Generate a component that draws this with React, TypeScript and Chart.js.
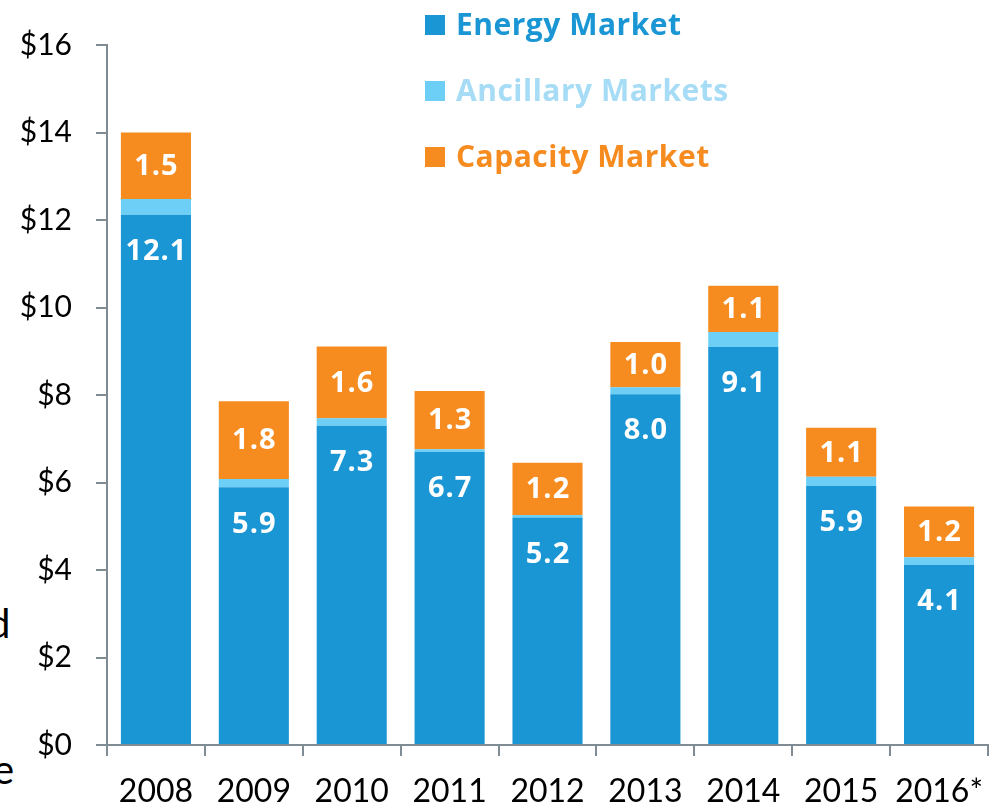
import React, { useEffect, useRef } from "react";
import { Chart, registerables } from "chart.js";

Chart.register(...registerables);

const years = ["2008", "2009", "2010", "2011", "2012", "2013", "2014", "2015", "2016*"];
const energy = [12.12, 5.89, 7.3, 6.7, 5.2, 8.02, 9.1, 5.92, 4.12];
const ancillary = [0.36, 0.19, 0.17, 0.06, 0.06, 0.16, 0.34, 0.21, 0.17];
const capacity = [1.52, 1.78, 1.64, 1.33, 1.19, 1.03, 1.06, 1.12, 1.16];
const seriesNames = ["Energy Market", "Ancillary Markets", "Capacity Market"];
const yTickValues = [0, 2, 4, 6, 8, 10, 12, 14, 16];

const FONT = 'Lato, "Open Sans", "DejaVu Sans", sans-serif';
const BOLD_FONT = '"Open Sans", Lato, "DejaVu Sans", sans-serif';
const COLORS = ["#1a96d4", "#6dcff6", "#f68b1f"];
const LEGEND_TEXT = ["#1a96d4", "#a6dcf5", "#f68b1f"];
const AXIS = "#7f8c94";

const valueLabels = {
  id: "valueLabels",
  afterDatasetsDraw(chart: any) {
    const ctx = chart.ctx;
    ctx.save();
    ctx.fillStyle = "#ffffff";
    ctx.font = `bold 29px ${BOLD_FONT}`;
    try { (ctx as any).letterSpacing = "1px"; } catch (e) {}
    ctx.textAlign = "center";
    ctx.textBaseline = "middle";
    const eMeta = chart.getDatasetMeta(0);
    eMeta.data.forEach((bar: any, i: number) => {
      ctx.fillText(energy[i].toFixed(1), bar.x + 0.5, bar.y + 37);
    });
    const cMeta = chart.getDatasetMeta(2);
    cMeta.data.forEach((bar: any, i: number) => {
      ctx.fillText(capacity[i].toFixed(1), bar.x + 0.5, (bar.y + bar.base) / 2 + 1);
    });
    ctx.restore();
  },
};

const customLegend = {
  id: "customLegend",
  afterDraw(chart: any) {
    const ctx = chart.ctx;
    ctx.save();
    ctx.font = `bold 30px ${BOLD_FONT}`;
    try { (ctx as any).letterSpacing = "0.5px"; } catch (e) {}
    ctx.textAlign = "left";
    ctx.textBaseline = "middle";
    seriesNames.forEach((name, i) => {
      const cy = 25 + i * 66;
      ctx.fillStyle = COLORS[i];
      ctx.fillRect(425, cy - 10, 20, 20);
      ctx.fillStyle = LEGEND_TEXT[i];
      ctx.fillText(name, 456, cy + 1);
    });
    ctx.restore();
  },
};

export default function App() {
  const ref = useRef<HTMLCanvasElement | null>(null);

  useEffect(() => {
    if (!ref.current) return;
    const chart = new Chart(ref.current, {
      type: "bar",
      data: {
        labels: years,
        datasets: [
          { label: seriesNames[0], data: energy, backgroundColor: COLORS[0] },
          { label: seriesNames[1], data: ancillary, backgroundColor: COLORS[1] },
          { label: seriesNames[2], data: capacity, backgroundColor: COLORS[2] },
        ],
      },
      options: {
        responsive: false,
        animation: false,
        devicePixelRatio: 1,
        layout: { padding: { top: 45, right: 4, left: 0, bottom: 0 } },
        datasets: { bar: { categoryPercentage: 1, barPercentage: 0.716 } },
        plugins: {
          legend: { display: false },
          tooltip: { enabled: false },
        },
        scales: {
          x: {
            stacked: true,
            afterFit: (s: any) => {
              s.height = 65;
              s.paddingRight = 0;
              s.paddingLeft = 0;
            },
            border: { color: AXIS, width: 2 },
            grid: {
              offset: true,
              drawOnChartArea: false,
              drawTicks: true,
              tickLength: 11,
              color: AXIS,
              lineWidth: 2,
            },
            ticks: {
              color: "#000000",
              font: { family: FONT, size: 32 },
              padding: 16,
              maxRotation: 0,
              autoSkip: false,
            },
          },
          y: {
            stacked: true,
            min: 0,
            max: 16,
            afterFit: (s: any) => {
              s.width = 107;
            },
            afterBuildTicks: (s: any) => {
              s.ticks = yTickValues.map((v) => ({ value: v }));
            },
            border: { color: AXIS, width: 2 },
            grid: {
              drawOnChartArea: false,
              drawTicks: true,
              tickLength: 11,
              color: AXIS,
              lineWidth: 2,
            },
            ticks: {
              color: "#000000",
              font: { family: FONT, size: 30 },
              padding: 24,
              callback: (v: any) => "$" + v,
            },
          },
        },
      },
      plugins: [valueLabels, customLegend],
    });
    return () => chart.destroy();
  }, []);

  return (
    <div style={{ position: "absolute", left: 0, top: 0, width: 992, height: 810, overflow: "hidden", background: "#ffffff" }}>
      <span style={{ position: "absolute", left: -12, top: 603, fontFamily: FONT, fontSize: 40, lineHeight: 1, color: "#000" }}>d</span>
      <span style={{ position: "absolute", left: -7, top: 749, fontFamily: FONT, fontSize: 40, lineHeight: 1, color: "#000" }}>e</span>
      <canvas ref={ref} width={992} height={810} style={{ position: "absolute", left: 0, top: 0, width: 992, height: 810 }} />
    </div>
  );
}
